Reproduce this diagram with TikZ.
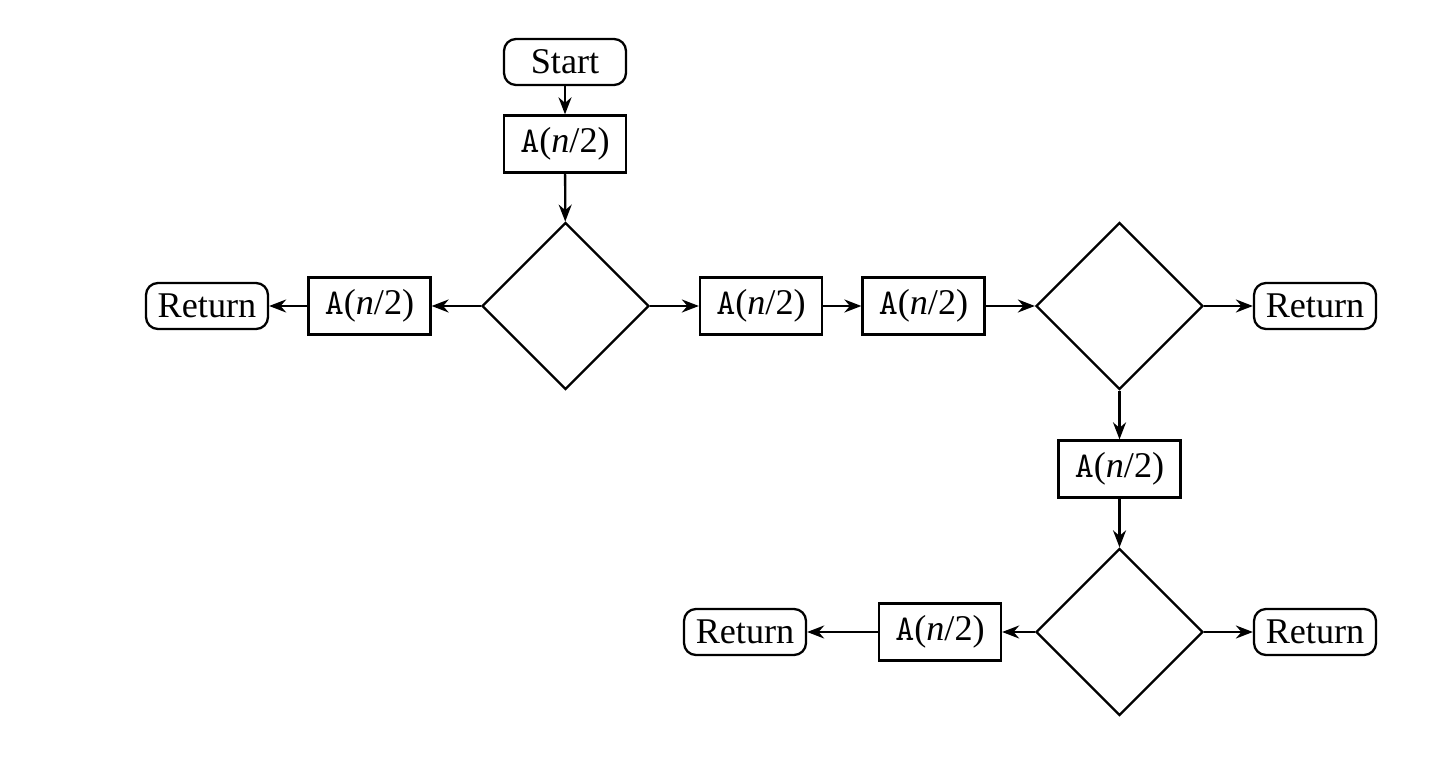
\documentclass[tikz,border=0pt]{standalone}
\usepackage{fontspec}
\setmainfont{Liberation Serif}
\usepackage{tikz}
\usetikzlibrary{shapes.geometric,arrows.meta}

\newcommand{\callA}{\texttt{A}(\textit{n}/2)}

\begin{document}
\begin{tikzpicture}[
    line width=0.65pt,
    term/.style={rectangle, draw, rounded corners=1.2mm, minimum width=1.22cm, minimum height=0.46cm, inner sep=1pt, font=\fontsize{10.3}{12}\selectfont},
    call/.style={rectangle, draw, minimum width=1.22cm, minimum height=0.57cm, inner sep=1pt, font=\fontsize{10.3}{12}\selectfont},
    test/.style={diamond, draw, minimum width=1.67cm, minimum height=1.67cm, inner sep=0pt},
    arrow/.style={-{Stealth[length=1.7mm,width=1.3mm]}}
]
\useasboundingbox (0,0) rectangle (14.3,-7.6);
\node[term] (start) at (5.65, -0.62) {Start};
\node[call] (a1) at (5.65, -1.44) {\callA};
\node[test] (d1) at (5.655, -3.06) {};
\node[call] (aleft) at (3.695, -3.06) {\callA};
\node[term] (rleft) at (2.07, -3.06) {Return};
\node[call] (a2) at (7.61, -3.06) {\callA};
\node[call] (a3) at (9.235, -3.06) {\callA};
\node[test] (d2) at (11.195, -3.06) {};
\node[term] (rright) at (13.15, -3.06) {Return};
\node[call] (a4) at (11.195, -4.69) {\callA};
\node[test] (d3) at (11.195, -6.32) {};
\node[call] (a5) at (9.40, -6.32) {\callA};
\node[term] (rbleft) at (7.45, -6.32) {Return};
\node[term] (rbright) at (13.15, -6.32) {Return};
\draw[arrow] (start) -- (a1);
\draw[arrow] (a1) -- (d1);
\draw[arrow] (d1) -- (aleft);
\draw[arrow] (aleft) -- (rleft);
\draw[arrow] (d1) -- (a2);
\draw[arrow] (a2) -- (a3);
\draw[arrow] (a3) -- (d2);
\draw[arrow] (d2) -- (rright);
\draw[arrow] (d2) -- (a4);
\draw[arrow] (a4) -- (d3);
\draw[arrow] (d3) -- (a5);
\draw[arrow] (a5) -- (rbleft);
\draw[arrow] (d3) -- (rbright);
\end{tikzpicture}
\end{document}
